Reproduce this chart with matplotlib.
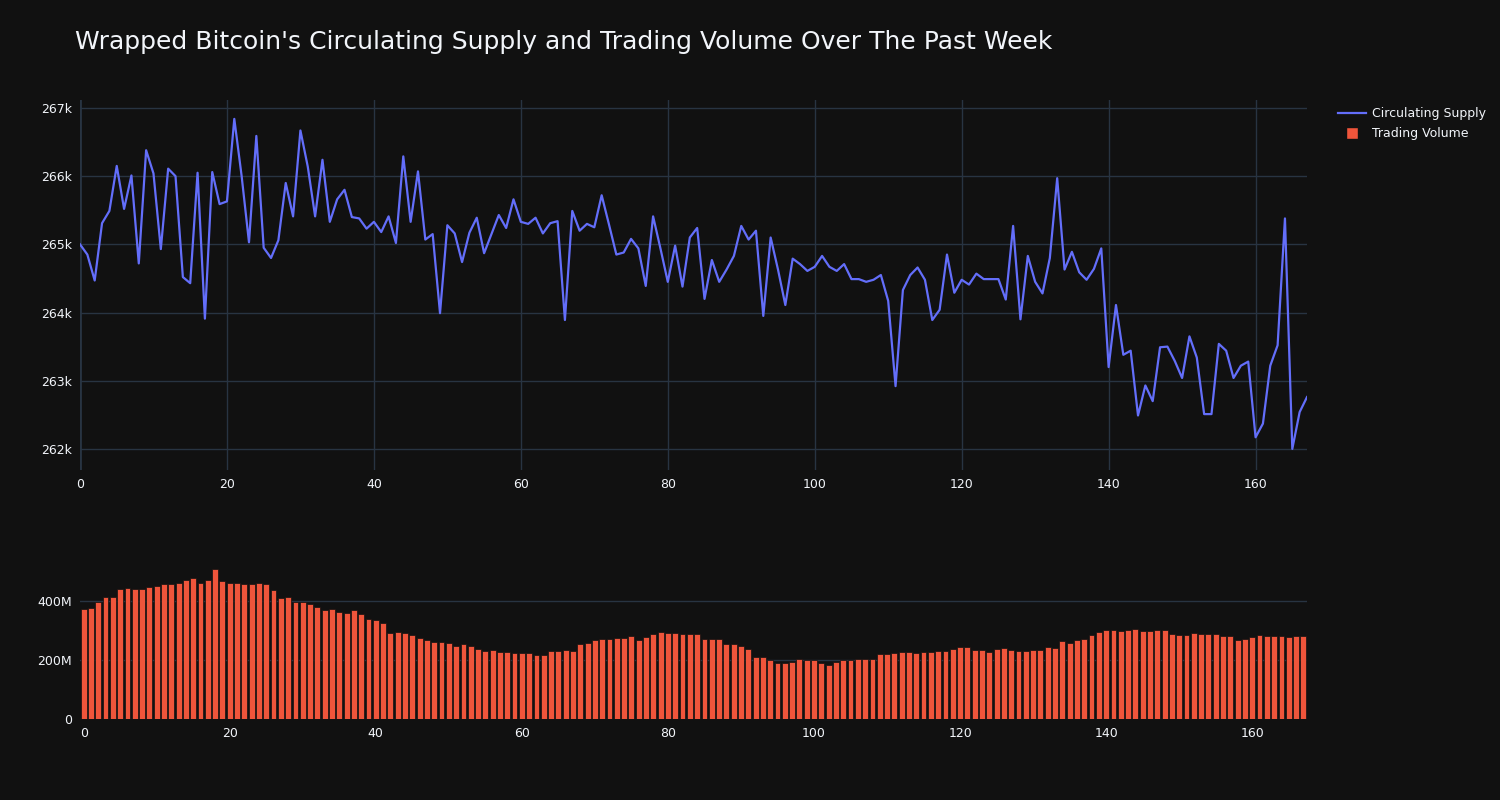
import matplotlib
matplotlib.use("Agg")
import matplotlib.pyplot as plt
from matplotlib.ticker import FuncFormatter, MultipleLocator
from matplotlib.lines import Line2D
import numpy as np

# Circulating supply (thousands of WBTC), hourly over the past week
supply_k = [
    265.00, 264.85, 264.47, 265.31, 265.49, 266.15, 265.52, 266.01, 264.72, 266.38,
    266.04, 264.93, 266.11, 266.00, 264.52, 264.43, 266.05, 263.91, 266.06, 265.59,
    265.63, 266.84, 266.00, 265.03, 266.59, 264.95, 264.80, 265.06, 265.90, 265.41,
    266.67, 266.14, 265.41, 266.24, 265.33, 265.66, 265.80, 265.40, 265.38, 265.23,
    265.33, 265.18, 265.41, 265.02, 266.29, 265.33, 266.07, 265.07, 265.15, 263.99,
    265.28, 265.16, 264.74, 265.17, 265.39, 264.87, 265.15, 265.43, 265.24, 265.66,
    265.33, 265.30, 265.39, 265.16, 265.31, 265.34, 263.89, 265.49, 265.20, 265.30,
    265.25, 265.72, 265.29, 264.85, 264.88, 265.08, 264.94, 264.39, 265.41, 264.94,
    264.45, 264.98, 264.38, 265.10, 265.24, 264.20, 264.77, 264.45, 264.63, 264.83,
    265.27, 265.07, 265.20, 263.95, 265.10, 264.63, 264.11, 264.79, 264.71, 264.61,
    264.67, 264.83, 264.67, 264.61, 264.71, 264.49, 264.49, 264.45, 264.48, 264.55,
    264.17, 262.92, 264.33, 264.55, 264.66, 264.48, 263.89, 264.04, 264.85, 264.29,
    264.48, 264.41, 264.57, 264.49, 264.49, 264.49, 264.19, 265.27, 263.90, 264.83,
    264.45, 264.28, 264.80, 265.97, 264.63, 264.89, 264.59, 264.48, 264.64, 264.94,
    263.20, 264.11, 263.38, 263.44, 262.49, 262.93, 262.70, 263.49, 263.50, 263.29,
    263.04, 263.65, 263.34, 262.51, 262.51, 263.54, 263.44, 263.04, 263.22, 263.28,
    262.17, 262.37, 263.22, 263.52, 265.38, 262.00, 262.54, 262.76,
]

# Trading volume (millions USD)
volume_m = [
    371.7, 377.0, 396.6, 413.6, 413.6, 440.8, 444.0, 438.5, 439.7, 446.5,
    448.7, 456.7, 457.8, 460.0, 471.4, 478.2, 459.0, 470.3, 507.6, 466.9,
    459.0, 459.0, 455.5, 455.5, 459.0, 457.8, 437.4, 411.3, 414.7, 396.6,
    397.7, 389.8, 380.7, 370.5, 372.8, 362.6, 360.3, 369.4, 355.8, 340.0,
    335.4, 326.0, 292.3, 293.4, 290.0, 284.4, 275.4, 266.3, 260.6, 260.6,
    258.4, 245.9, 255.0, 245.9, 238.0, 231.2, 232.3, 227.8, 225.5, 224.4,
    223.2, 223.2, 217.6, 215.3, 231.2, 228.9, 234.6, 231.2, 253.8, 258.4,
    266.3, 270.8, 272.0, 274.2, 275.4, 282.2, 267.4, 278.8, 289.0, 294.6,
    292.3, 291.2, 289.0, 287.8, 289.0, 270.8, 270.8, 270.8, 255.0, 252.7,
    247.0, 235.7, 209.6, 209.6, 200.6, 190.4, 188.1, 191.5, 202.8, 199.4,
    198.3, 189.2, 183.6, 193.8, 199.4, 200.6, 202.8, 204.0, 204.0, 219.8,
    221.0, 223.2, 226.6, 226.6, 224.4, 225.5, 226.6, 231.2, 231.2, 236.8,
    242.5, 244.8, 234.6, 234.6, 226.6, 235.7, 240.2, 232.3, 231.2, 230.0,
    232.3, 234.6, 243.6, 240.2, 262.9, 258.4, 267.4, 272.0, 285.5, 293.5,
    300.3, 301.4, 298.0, 301.4, 306.0, 299.2, 299.2, 301.4, 301.4, 289.0,
    285.5, 283.3, 291.2, 289.0, 287.8, 287.8, 281.0, 279.9, 268.6, 269.7,
    278.8, 283.3, 279.9, 282.2, 282.2, 277.6, 282.2, 281.0,
]

title = "Wrapped Bitcoin's Circulating Supply and Trading Volume Over The Past Week"
series_names = ["Circulating Supply", "Trading Volume"]
x_ticks = [0, 20, 40, 60, 80, 100, 120, 140, 160]

supply = np.array(supply_k) * 1e3
volume = np.array(volume_m) * 1e6
hours = np.arange(len(supply))

BG = "#111111"
GRID = "#283442"
TXT = "#f2f5fa"
LINE_C = "#636efa"
BAR_C = "#ef553b"

plt.rcParams["font.family"] = ["DejaVu Sans"]

fig = plt.figure(figsize=(15, 8), dpi=100, facecolor=BG)
W, H = 1500, 800
def rect(l, t, r, b):
    return [l / W, 1 - b / H, (r - l) / W, (b - t) / H]

ax1 = fig.add_axes(rect(80, 100, 1307, 470), facecolor=BG)
ax2 = fig.add_axes(rect(80, 561, 1307, 719), facecolor=BG)

for ax in (ax1, ax2):
    for s in ax.spines.values():
        s.set_visible(False)
    ax.tick_params(colors=TXT, labelsize=9, length=0, pad=6)
    ax.set_axisbelow(True)

ax1.plot(hours, supply, color=LINE_C, lw=1.6, zorder=3)
ax1.set_xlim(0, len(supply) - 1)
ax1.set_ylim(261690, 267117)
ax1.yaxis.set_major_locator(MultipleLocator(1000))
ax1.yaxis.set_major_formatter(FuncFormatter(lambda v, p: f"{v/1e3:.0f}k"))
ax1.set_xticks(x_ticks)
ax1.grid(True, color=GRID, lw=1)
ax1.axvline(0, color=GRID, lw=2, zorder=1)

ax2.bar(hours, volume, width=0.8, color=BAR_C, edgecolor=BG, lw=0.5, zorder=3)
ax2.set_xlim(-0.5, len(volume) - 0.5)
ax2.set_ylim(0, 535e6)
ax2.set_yticks([0, 200e6, 400e6])
ax2.yaxis.set_major_formatter(FuncFormatter(lambda v, p: "0" if v == 0 else f"{v/1e6:.0f}M"))
ax2.set_xticks(x_ticks)
ax2.grid(True, axis="y", color=GRID, lw=1)
ax2.grid(False, axis="x")

fig.text(75 / W, 1 - 42 / H, title, color=TXT, fontsize=18, ha="left", va="center")

handles = [Line2D([0], [0], color=LINE_C, lw=1.6),
           Line2D([0], [0], marker="s", color=BG, markerfacecolor=BAR_C,
                  markeredgecolor=BG, markersize=9, lw=0)]
leg = fig.legend(handles, series_names, loc="upper left",
                 bbox_to_anchor=(1333 / W, 1 - 102 / H), frameon=False,
                 fontsize=9, labelcolor=TXT, handlelength=2.2, handletextpad=0.5,
                 labelspacing=0.55, borderaxespad=0)

fig.savefig("out.png", dpi=100, facecolor=BG)
